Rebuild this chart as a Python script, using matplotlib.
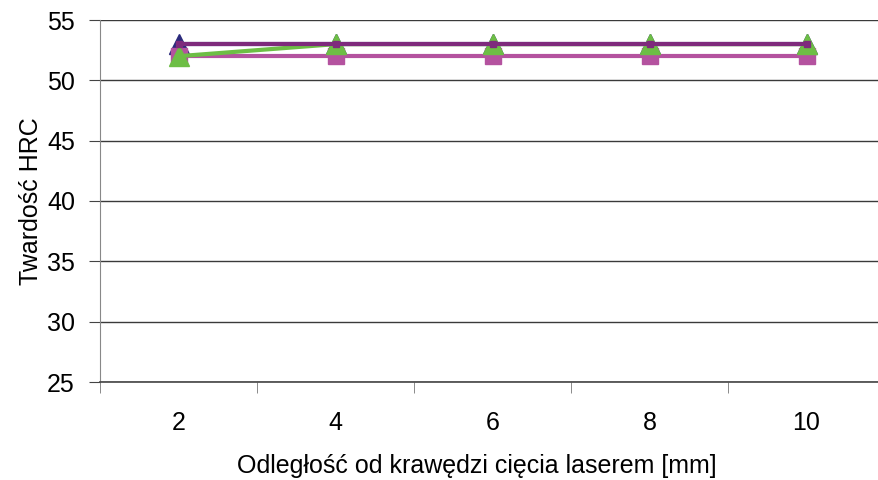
import matplotlib
matplotlib.use("Agg")
import matplotlib.pyplot as plt
import numpy as np

plt.rcParams['font.family'] = ['Liberation Sans', 'DejaVu Sans']

# dane
odleglosc = ["2", "4", "6", "8", "10"]
seria_1 = [53, 53, 53, 53, 53]
seria_2 = [52, 52, 52, 52, 52]
seria_3 = [52, 53, 53, 53, 53]
seria_4 = [53, 53, 53, 53, 53]
yticks = [25, 30, 35, 40, 45, 50, 55]

x = np.arange(1, len(odleglosc) + 1)

fig = plt.figure(figsize=(8.79, 4.8), dpi=100)
ax = fig.add_axes([100 / 879, 1 - 382 / 480, 785 / 879, 362 / 480])

ax.plot(x, seria_1, color="#2B2A7C", lw=3, marker="^", ms=15, clip_on=False, zorder=3)
ax.plot(x, seria_2, color="#B4529F", lw=3, marker="s", ms=12, clip_on=False, zorder=4)
ax.plot(x, seria_3, color="#6DBE45", lw=3, marker="^", ms=15, clip_on=False, zorder=5)
ax.plot(x, seria_4, color="#7E2A7C", lw=3, marker="s", ms=5, clip_on=False, zorder=6)

ax.set_xlim(0.5, 5.5)
ax.set_ylim(25, 55)
ax.set_yticks(yticks)
ax.set_xticks(x)
ax.set_xticklabels(odleglosc)
ax.set_xticks(np.arange(0.5, 5.5, 1), minor=True)
ax.grid(axis="y", color="#3a3a3a", lw=1)
ax.set_axisbelow(True)

for s in ["top", "right"]:
    ax.spines[s].set_visible(False)
ax.spines["left"].set_color("#888888")
ax.spines["bottom"].set_color("#444444")
ax.spines["bottom"].set_linewidth(1.2)

ax.tick_params(axis="y", length=8, color="#444444", labelsize=18, pad=10)
ax.tick_params(axis="x", which="major", length=0, labelsize=18, pad=21)
ax.tick_params(axis="x", which="minor", length=8, color="#777777")

ax.set_xlabel("Odległość od krawędzi cięcia laserem [mm]", fontsize=18)
ax.xaxis.set_label_coords(0.48, -0.2)
ax.set_ylabel("Twardość HRC", fontsize=18)
ax.yaxis.set_label_coords(-0.073, 0.5)

fig.savefig("out.png", dpi=100)
